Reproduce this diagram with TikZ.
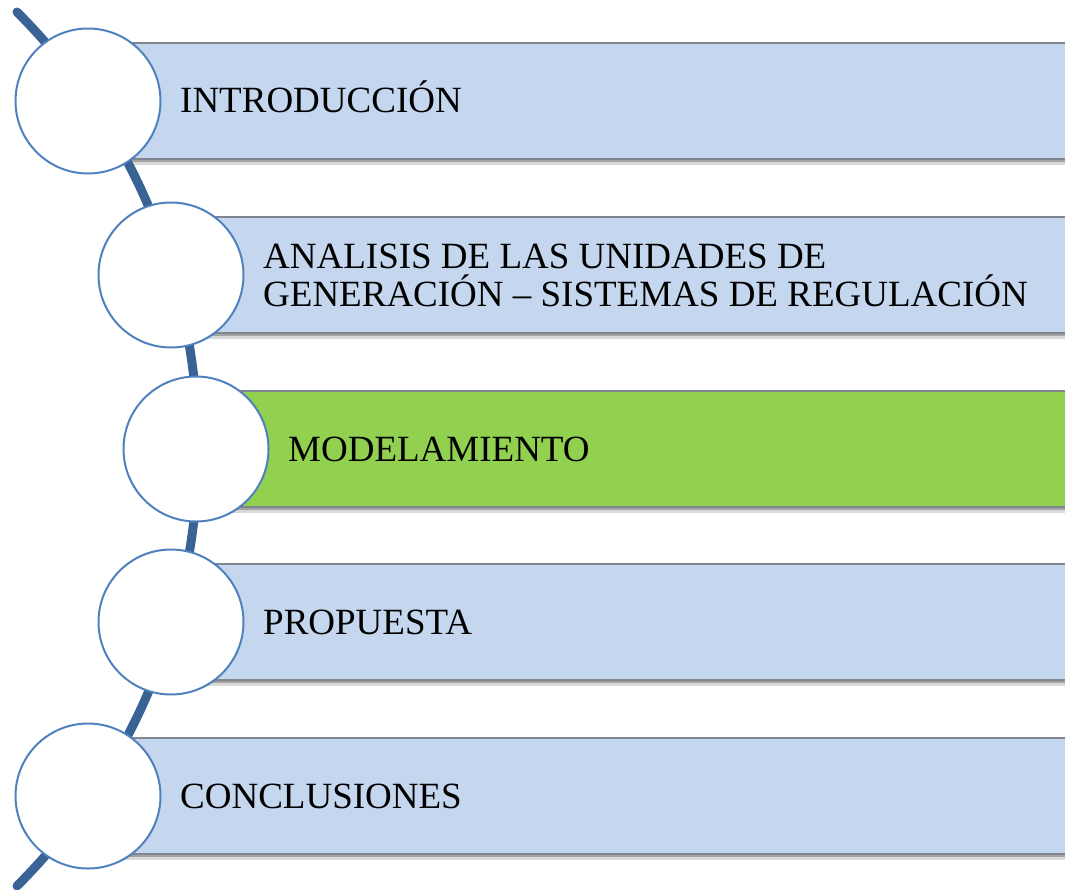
\documentclass[tikz,border=0pt]{standalone}
\usepackage{fontspec}
\setmainfont{Liberation Serif}
\usepackage{tikz}
\usetikzlibrary{shadows}
\definecolor{barblue}{RGB}{197,215,238}
\definecolor{bargreen}{RGB}{146,208,80}
\definecolor{bargrey}{RGB}{128,134,144}
\definecolor{ringblue}{RGB}{79,129,189}
\definecolor{spineblue}{RGB}{58,99,149}
\tikzstyle{item}=[draw=bargrey, line width=1.5pt, fill=barblue, anchor=west, inner sep=0,
                  minimum width=990pt, minimum height=116pt,
                  drop shadow={shadow xshift=0pt, shadow yshift=-6pt, opacity=0.15, fill=black},
                  drop shadow={shadow xshift=0pt, shadow yshift=-3pt, opacity=0.25, fill=black}]
\tikzstyle{activeitem}=[item, fill=bargreen]
\tikzstyle{ring}=[circle, draw=ringblue, line width=2pt, fill=white, inner sep=0, minimum size=145pt]
\tikzstyle{label}=[anchor=base west, inner sep=0, align=left,
                   font=\fontsize{37}{38}\selectfont]
\tikzstyle{spine}=[draw=spineblue, line width=9pt, line cap=round]

\begin{document}
\begin{tikzpicture}[x=1pt, y=-1pt]
        \useasboundingbox (0, 0) rectangle (1065, 889);
        \clip (0, 0) rectangle (1065, 889);
        % bars
        \node[item]       (B1) at (88, 101) {};
        \node[item]       (B2) at (171, 275) {};
        \node[activeitem] (B3) at (196, 449) {};
        \node[item]       (B4) at (171, 622) {};
        \node[item]       (B5) at (88, 796) {};
        % arc behind the circles
        \coordinate (arctop) at (17, 12);
        \draw[spine] (arctop) arc[start angle=-45, end angle=45, radius=618];
        % circles
        \node[ring] (C1) at (88, 101) {};
        \node[ring] (C2) at (171, 275) {};
        \node[ring] (C3) at (196, 449) {};
        \node[ring] (C4) at (171, 622) {};
        \node[ring] (C5) at (88, 796) {};
        % texts
        \node[label] (T1) at (180, 112) {INTRODUCCIÓN};
        \node[label] (T2) at (263, 306) {ANALISIS DE LAS UNIDADES DE\\GENERACIÓN – SISTEMAS DE REGULACIÓN};
        \node[label] (T3) at (288, 461) {MODELAMIENTO};
        \node[label] (T4) at (263, 634) {PROPUESTA};
        \node[label] (T5) at (180, 808) {CONCLUSIONES};
    \end{tikzpicture}
\end{document}
